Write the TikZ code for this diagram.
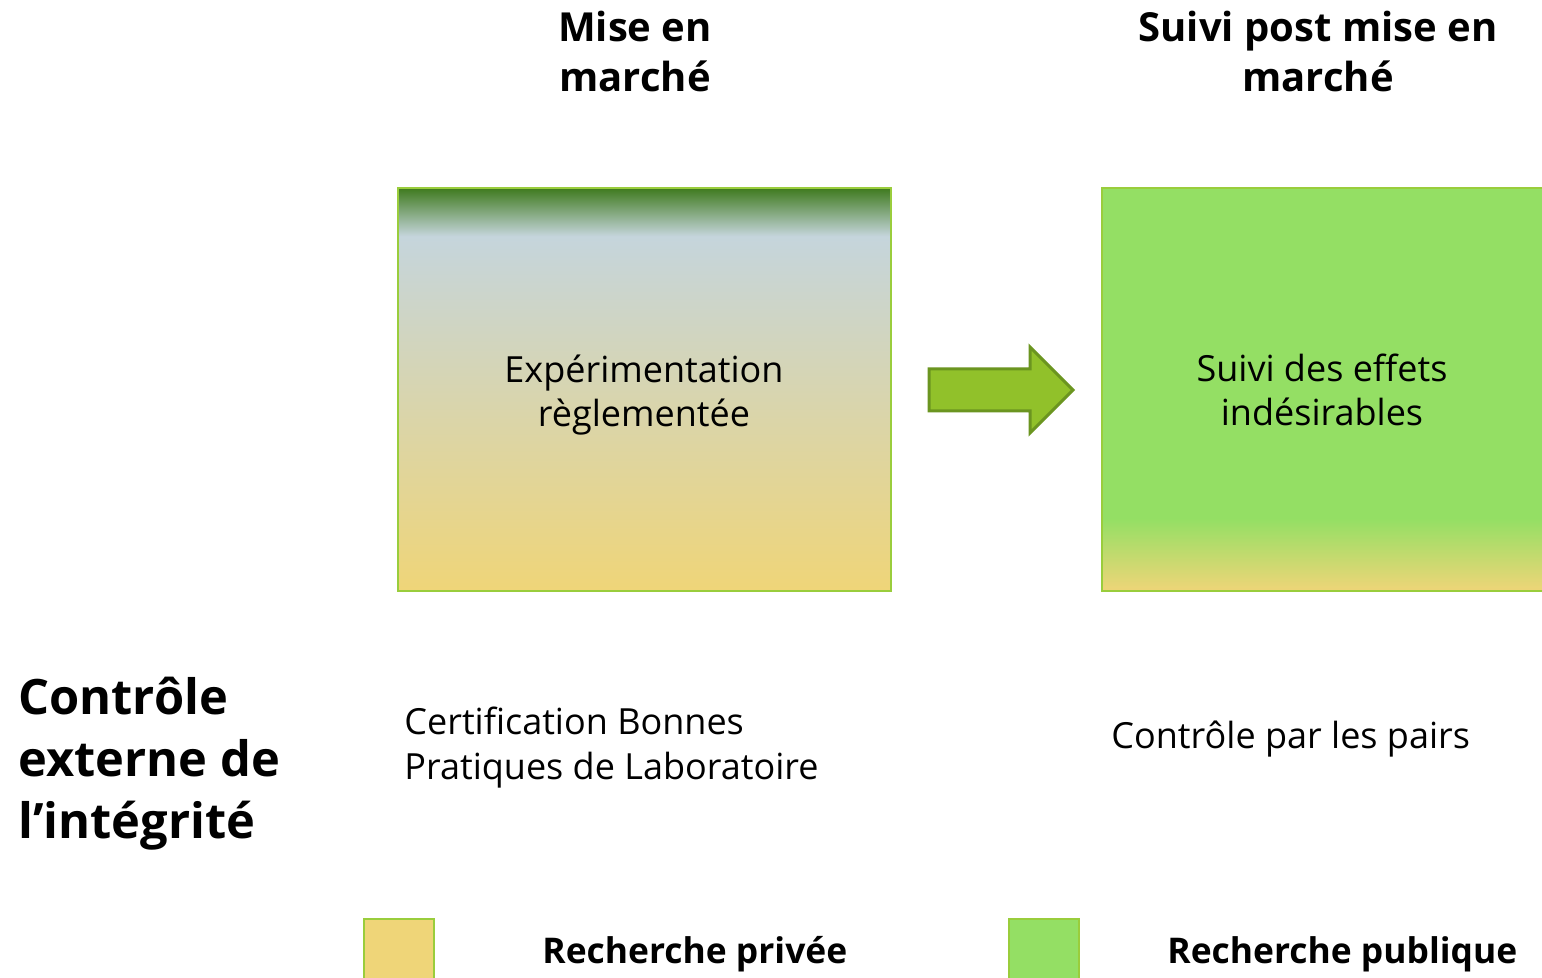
\documentclass[tikz,border=0pt]{standalone}
\usepackage{fontspec}
\setmainfont{Open Sans}
\usepackage{tikz}
\usetikzlibrary{positioning, calc}
\definecolor{gold}{HTML}{EFD578}
\definecolor{pale}{HTML}{C5D5DC}
\definecolor{deepgreen}{HTML}{3F7A1E}
\definecolor{leaf}{HTML}{94DF64}
\definecolor{rim}{HTML}{9ACD3C}
\definecolor{arrowfill}{HTML}{91C12A}
\definecolor{arrowrim}{HTML}{6B9520}
% left panel: dark band on top, pale to gold below
\pgfdeclareverticalshading{expershade}{100bp}{color(0bp)=(gold); color(25bp)=(gold);
  color(69bp)=(pale); color(75bp)=(deepgreen); color(100bp)=(deepgreen)}
% right panel: green, gold only at the foot
\pgfdeclareverticalshading{suivishade}{100bp}{color(0bp)=(gold); color(25bp)=(gold);
  color(34bp)=(leaf); color(100bp)=(leaf)}
\tikzset{
  % column heading
  head/.style={font=\fontsize{20}{25}\selectfont\bfseries, align=center},
  % big panel
  panel/.style={draw=rim, line width=0.9pt, minimum width=246.5pt,
                minimum height=201.5pt, inner sep=0pt},
  body/.style={font=\fontsize{18}{22}\selectfont, align=center},
  % plain text under the panels
  note/.style={font=\fontsize{18}{22.5}\selectfont, align=left, anchor=west,
               inner sep=0pt},
  % legend swatch
  swatch/.style={draw=rim, line width=0.9pt, fill=#1, minimum width=35pt,
                 minimum height=34pt, inner sep=0pt, anchor=north west},
  legend/.style={font=\fontsize{17.7}{20}\selectfont\bfseries, anchor=west,
                 inner sep=0pt},
}

\begin{document}
\begin{tikzpicture}[x=0.5pt, y=-0.5pt]
  \clip (0,0) rectangle (1542,978);
  \fill[white] (0,0) rectangle (1542,978);
  % headings
  \node[head] (tmise)  at (635,52)  {Mise en\\marché};
  \node[head] (tsuivi) at (1318,52) {Suivi post mise en\\marché};
  % panels
  \node[panel, shading=expershade] (exper) at (644.5,389.5) {};
  \node[body] (expertxt) at (644,395) {Expérimentation\\règlementée};
  \node[panel, shading=suivishade, minimum width=260pt, anchor=west] (suivi)
    at (1101,389.5) {};
  \node[body] (suivitxt) at (1322,390) {Suivi des effets\\indésirables};
  % block arrow between the panels
  \coordinate (fleche) at (929,390);
  \filldraw[draw=arrowrim, fill=arrowfill, line width=1.5pt, line join=miter]
    (fleche) ++(0,-21) -- ++(101,0) -- ++(0,-22) -- ++(43,43) -- ++(-43,43)
    -- ++(0,-22) -- ++(-101,0) -- cycle;
  % integrity row
  \node[font=\fontsize{24.4}{31}\selectfont\bfseries, align=left, anchor=west,
        inner sep=0pt] (ctrl) at (18,764)
    {Contrôle\\externe de\\l’intégrité};
  \node[note] (bpl) at (404,748)
    {Certification Bonnes\\Pratiques de Laboratoire};
  \node[note] (pairs) at (1111,739) {Contrôle par les pairs};
  % legend
  \node[swatch=gold] (lpriv) at (363,918) {};
  \node[swatch=leaf] (lpub)  at (1008,918) {};
  \node[legend] (tpriv) at (542,954) {Recherche privée};
  \node[legend] (tpub)  at (1167,954) {Recherche publique};
\end{tikzpicture}
\end{document}
